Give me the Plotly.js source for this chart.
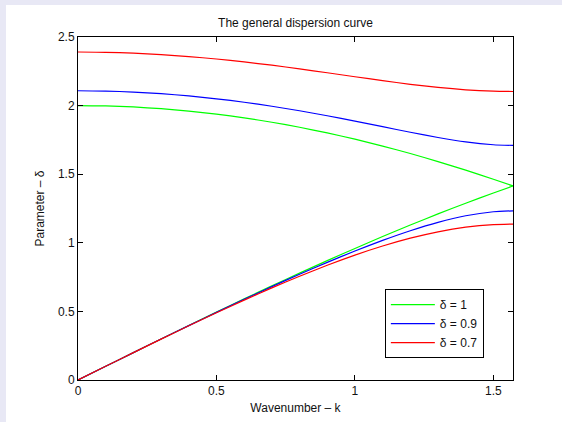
<!DOCTYPE html>
<html>
<head>
<meta charset="utf-8">
<script src="https://cdn.plot.ly/plotly-3.0.1.min.js"></script>
<style>
html,body{margin:0;padding:0;background:#e8e8f5;width:562px;height:422px;overflow:hidden;}
#chart{position:absolute;left:6px;top:5px;width:556px;height:417px;background:#fff;}
</style>
</head>
<body>
<div id="chart"></div>
<script>
// Wavenumber k samples (0 .. pi/2)
const k = [0, 0.1, 0.2, 0.3, 0.4, 0.5, 0.6, 0.7, 0.8, 0.9, 1.0, 1.1, 1.2, 1.3, 1.4, 1.5, 1.5708];

// delta = 1
const upper1 = [2.000, 1.9975, 1.9900, 1.9775, 1.9601, 1.9378, 1.9107, 1.8787, 1.8421, 1.8009, 1.7552, 1.7050, 1.6507, 1.5922, 1.5297, 1.4634, 1.4142];
const lower1 = [0, 0.0999, 0.1997, 0.2989, 0.3973, 0.4948, 0.5910, 0.6858, 0.7788, 0.8699, 0.9589, 1.0454, 1.1293, 1.2104, 1.2884, 1.3633, 1.4142];

// delta = 0.9
const upper09 = [2.1082, 2.1058, 2.0987, 2.0869, 2.0706, 2.0497, 2.0245, 1.9953, 1.9623, 1.9259, 1.8870, 1.8463, 1.8056, 1.7673, 1.7352, 1.7148, 1.7103];
const lower09 = [0, 0.0999, 0.1996, 0.2985, 0.3965, 0.4931, 0.5880, 0.6807, 0.7707, 0.8575, 0.9401, 1.0176, 1.0882, 1.1494, 1.1973, 1.2263, 1.2327];

// delta = 0.7
const upper07 = [2.3905, 2.3884, 2.3821, 2.3718, 2.3576, 2.3397, 2.3185, 2.2943, 2.2677, 2.2395, 2.2105, 2.1820, 2.1554, 2.1325, 2.1152, 2.1050, 2.1029];
const lower07 = [0, 0.0999, 0.1994, 0.2978, 0.3948, 0.4898, 0.5822, 0.6712, 0.7562, 0.8362, 0.9100, 0.9764, 1.0337, 1.0801, 1.1137, 1.1328, 1.1368];

const labels = ['δ = 1', 'δ = 0.9', 'δ = 0.7'];
const colors = ['#00ff00', '#0000ff', '#ff0000'];
const uppers = [upper1, upper09, upper07];
const lowers = [lower1, lower09, lower07];

const traces = [];
for (let i = 0; i < 3; i++) {
  traces.push({x: k, y: lowers[i], mode: 'lines', name: labels[i], legendgroup: 'g' + i,
    line: {color: colors[i], width: 1.2, shape: 'spline', smoothing: 0.6}, showlegend: true});
  traces.push({x: k, y: uppers[i], mode: 'lines', name: labels[i], legendgroup: 'g' + i,
    line: {color: colors[i], width: 1.2, shape: 'spline', smoothing: 0.6}, showlegend: false});
}

const font = {family: 'Liberation Sans, Arial, sans-serif', size: 12, color: '#111'};
const axisCommon = {
  showgrid: false, zeroline: false, showline: true, mirror: 'ticks',
  linecolor: '#000', linewidth: 1, ticks: 'inside', ticklen: 5, tickcolor: '#000',
  tickfont: font
};

const layout = {
  width: 556, height: 417,
  margin: {l: 72, r: 49, t: 32, b: 42},
  paper_bgcolor: '#ffffff', plot_bgcolor: '#ffffff',
  font: font,
  title: {text: 'The general dispersion curve', font: font, x: 0.5, xref: 'paper', xanchor: 'center', y: 0.958, yref: 'container', yanchor: 'middle'},
  xaxis: Object.assign({}, axisCommon, {range: [0, 1.5708], tickvals: [0, 0.5, 1, 1.5], ticktext: ['0', '0.5', '1', '1.5'],
    title: {text: 'Wavenumber – k', font: font, standoff: 6}}),
  yaxis: Object.assign({}, axisCommon, {range: [0, 2.5], tickvals: [0, 0.5, 1, 1.5, 2, 2.5], ticktext: ['0', '0.5', '1', '1.5', '2', '2.5'],
    title: {text: 'Parameter – δ', font: font, standoff: 10}}),
  legend: {x: 0.933, y: 0.265, xanchor: 'right', yanchor: 'top', bgcolor: '#fff', bordercolor: '#000', borderwidth: 1,
    font: font, tracegroupgap: 0, itemwidth: 44},
  showlegend: true
};

Plotly.newPlot('chart', traces, layout, {displayModeBar: false, staticPlot: true});
</script>
</body>
</html>
